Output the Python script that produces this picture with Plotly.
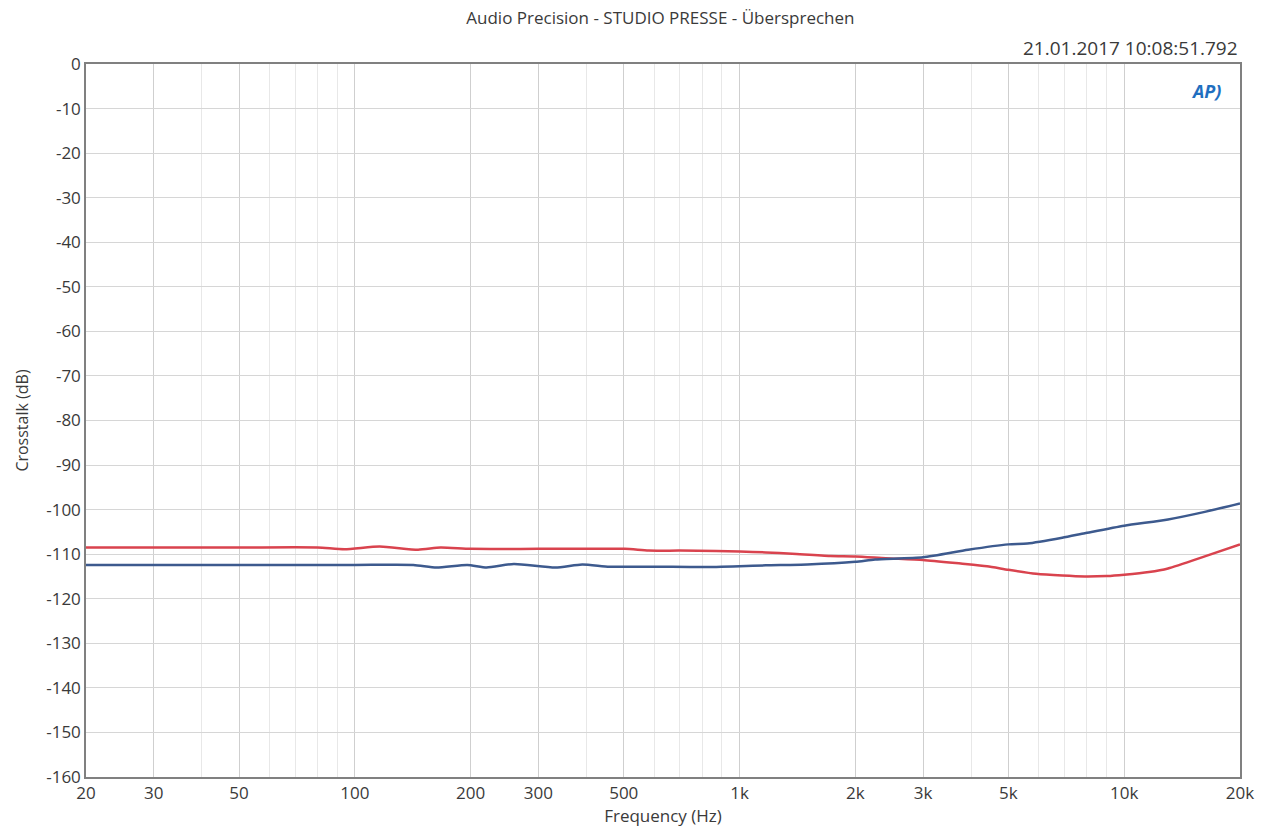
import plotly.graph_objects as go

title_text = "Audio Precision - STUDIO PRESSE - Übersprechen"
timestamp = "21.01.2017 10:08:51.792"

red_f = [20, 50, 80, 94, 116, 146, 167, 200, 300, 503, 580, 700, 870, 1000, 1170, 1370, 1720, 2000, 2400, 3000,
         3760, 4400, 5000, 5900, 6900, 7900, 9000, 10000, 11600, 13000, 16200, 20000]
red_db = [-108.5, -108.5, -108.5, -108.9, -108.3, -109.0, -108.5, -108.8, -108.8, -108.8, -109.2, -109.2, -109.3,
          -109.4, -109.6, -109.9, -110.4, -110.5, -110.9, -111.3, -112.1, -112.7, -113.5, -114.4, -114.8, -115.0,
          -114.9, -114.6, -114.0, -113.2, -110.5, -107.8]

blue_f = [20, 50, 100, 142, 163, 196, 220, 259, 332, 390, 459, 600, 800, 1000, 1170, 1500, 2000, 2250, 3000,
          3930, 5000, 5600, 6900, 7900, 10000, 13000, 16200, 20000]
blue_db = [-112.4, -112.4, -112.4, -112.4, -113.0, -112.4, -113.0, -112.2, -113.0, -112.3, -112.8, -112.8, -112.9,
           -112.7, -112.5, -112.3, -111.7, -111.2, -110.7, -109.0, -107.8, -107.6, -106.3, -105.3, -103.6, -102.2,
           -100.5, -98.6]

x_tickvals = [20, 30, 50, 100, 200, 300, 500, 1000, 2000, 3000, 5000, 10000, 20000]
x_ticktext = ["20", "30", "50", "100", "200", "300", "500", "1k", "2k", "3k", "5k", "10k", "20k"]
x_minor = [40, 60, 70, 80, 90, 400, 600, 700, 800, 900, 4000, 6000, 7000, 8000, 9000]
y_tickvals = list(range(0, -161, -10))
y_ticktext = ["0" if v == 0 else "-" + str(-v) for v in y_tickvals]

FONT = "Open Sans"
TXT = "#3a3a3a"

fig = go.Figure()
fig.add_trace(go.Scatter(x=red_f, y=red_db, mode="lines",
                         line=dict(color="#d9434e", width=2.5, shape="spline", smoothing=0.6),
                         showlegend=False, hoverinfo="x+y"))
fig.add_trace(go.Scatter(x=blue_f, y=blue_db, mode="lines",
                         line=dict(color="#3d5a8e", width=2.5, shape="spline", smoothing=0.6),
                         showlegend=False, hoverinfo="x+y"))

fig.update_layout(
    width=1270, height=829,
    margin=dict(l=86, r=30, t=64, b=52),
    paper_bgcolor="white", plot_bgcolor="white",
    font=dict(family=FONT, size=16, color=TXT),
    title=dict(text=title_text, x=0.52, xanchor="center", y=0.978, yanchor="middle",
               font=dict(family=FONT, size=17, color=TXT)),
    xaxis=dict(type="log", range=[1.30103, 4.30103], tickvals=x_tickvals, ticktext=x_ticktext,
               showgrid=True, gridcolor="#cfcfcf", gridwidth=1,
               minor=dict(tickvals=x_minor, showgrid=True, gridcolor="#e8e8e8", gridwidth=1, ticks=""),
               showline=True, linecolor="#808080", linewidth=1.5, mirror=True, ticks="",
               tickfont=dict(size=17, color=TXT),
               title=dict(text="Frequency (Hz)", standoff=0, font=dict(size=17, color=TXT)),
               zeroline=False),
    yaxis=dict(range=[-160, 0], tickvals=y_tickvals, ticktext=y_ticktext,
               showgrid=True, gridcolor="#d6d6d6", gridwidth=1,
               showline=True, linecolor="#808080", linewidth=1.5, mirror=True, ticks="",
               tickfont=dict(size=17, color=TXT),
               title=dict(text="Crosstalk (dB)", standoff=14, font=dict(size=16, color=TXT)),
               zeroline=False),
)

fig.add_annotation(text=timestamp, xref="paper", yref="paper", x=1.0, y=1.0, xanchor="right", yanchor="bottom",
                   yshift=1, showarrow=False, font=dict(family=FONT, size=19, color=TXT))
fig.add_annotation(text="<b><i>AP)</i></b>", xref="paper", yref="paper", x=0.985, y=0.982, xanchor="right",
                   yanchor="top", showarrow=False, font=dict(family=FONT, size=18, color="#1f6fc0"))

fig.write_html("out.html")
